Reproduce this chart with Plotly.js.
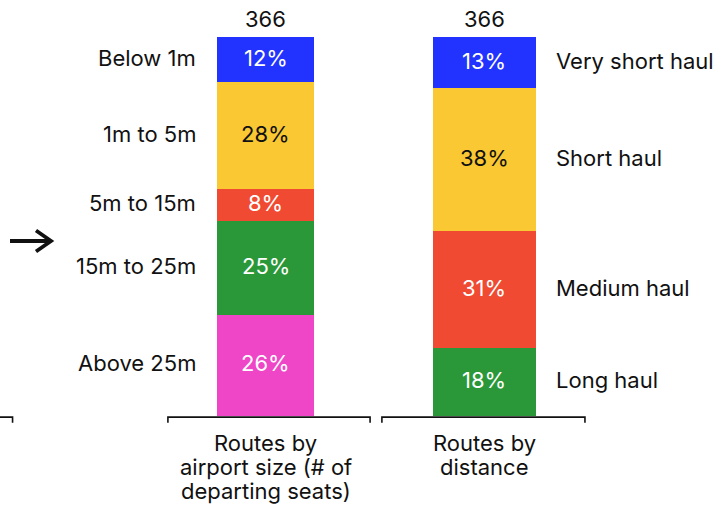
<!DOCTYPE html>
<html>
<head>
<meta charset="utf-8">
<script src="https://cdn.plot.ly/plotly-3.0.1.min.js"></script>
<style>html,body{margin:0;padding:0;background:#fff;}#chart{width:724px;height:509px;}</style>
</head>
<body>
<div id="chart"></div>
<script>
// ---- data ----
const groups = [["Routes by", "airport size (# of", "departing seats)"], ["Routes by", "distance"]];
const totals = [366, 366];

const sizeCats   = ["Below 1m", "1m to 5m", "5m to 15m", "15m to 25m", "Above 25m"];
const sizeShares = [11.9, 28.2, 8.4, 24.8, 26.7];
const sizeLabels = ["12%", "28%", "8%", "25%", "26%"];

const distCats   = ["Very short haul", "Short haul", "Medium haul", "Long haul"];
const distShares = [13.5, 37.7, 30.9, 17.9];
const distLabels = ["13%", "38%", "31%", "18%"];

// ---- styles ----
const sizeColors = ["#2233FF", "#F9C832", "#F04A33", "#2A9838", "#EE46C6"];
const sizeText   = ["#ffffff", "#111111", "#ffffff", "#ffffff", "#ffffff"];
const distColors = ["#2233FF", "#F9C832", "#F04A33", "#2A9838"];
const distText   = ["#ffffff", "#111111", "#ffffff", "#ffffff"];
const barWidths  = [0.444, 0.471];
const FONT = "Inter, Roboto, 'Liberation Sans', sans-serif";
const FS = 22;
const W = 724, H = 509;

const traces = [];
const annotations = [];

function addStack(xi, cats, shares, labels, colors, tcolors, side) {
  let cum = 0;
  cats.forEach((c, i) => {
    traces.push({
      type: "bar", x: [xi], y: [shares[i]], width: [barWidths[xi]],
      marker: {color: colors[i], line: {width: 0}},
      hoverinfo: "skip", showlegend: false
    });
    const mid = cum + shares[i] / 2;
    cum += shares[i];
    // value label inside the segment
    annotations.push({
      x: xi, y: mid, xref: "x", yref: "y", showarrow: false,
      xanchor: "center", yanchor: "middle", yshift: 2,
      text: labels[i], font: {family: FONT, size: FS, color: tcolors[i]}
    });
    // category label beside the bar
    annotations.push({
      x: side < 0 ? xi - barWidths[xi] / 2 : xi + barWidths[xi] / 2,
      y: mid, xref: "x", yref: "y", showarrow: false,
      xanchor: side < 0 ? "right" : "left", yanchor: "middle",
      xshift: side < 0 ? -19 : 18, yshift: 2,
      text: c, font: {family: FONT, size: FS, color: "#111"}
    });
  });
}
addStack(0, sizeCats, sizeShares, sizeLabels, sizeColors, sizeText, -1);
addStack(1, distCats, distShares, distLabels, distColors, distText, 1);

totals.forEach((t, i) => {
  annotations.push({x: i, y: 0, xref: "x", yref: "y", showarrow: false,
    yanchor: "bottom", yshift: 3, text: String(t),
    font: {family: FONT, size: FS, color: "#111"}});
});
groups.forEach((lines, i) => {
  lines.forEach((ln, k) => {
    annotations.push({x: i, y: 100, xref: "x", yref: "y", showarrow: false,
      yanchor: "middle", yshift: -27 - 24 * k, text: ln, align: "center",
      font: {family: FONT, size: FS, color: "#111"}});
  });
});

// bracket-style category axis
const brackets = [[-1.35, -1.156], [-0.446, 0.478], [0.532, 1.46]];
const shapes = brackets.map(b => ({
  type: "path", xref: "x", yref: "y",
  path: `M${b[0]},101.8 L${b[0]},100.3 L${b[1]},100.3 L${b[1]},101.8`,
  line: {color: "#111", width: 1.6}
}));
// arrow marker on the left (pixel positions converted to paper fractions)
const px = v => v / W, py = v => 1 - v / H;
shapes.push({type: "path", xref: "paper", yref: "paper",
  path: `M${px(10)},${py(241)} L${px(51)},${py(241)}`,
  line: {color: "#111", width: 3.8}});
shapes.push({type: "path", xref: "paper", yref: "paper",
  path: `M${px(36)},${py(230.5)} L${px(51)},${py(241)} L${px(36)},${py(251.5)}`,
  line: {color: "#111", width: 3.8}});

const layout = {
  width: W, height: H,
  margin: {l: 0, r: 0, t: 0, b: 0, pad: 0},
  paper_bgcolor: "#fff", plot_bgcolor: "#fff",
  barmode: "stack", bargap: 0,
  xaxis: {range: [-1.2134, 2.0955], visible: false, fixedrange: true},
  yaxis: {range: [124.54, -9.76], visible: false, fixedrange: true},
  annotations: annotations, shapes: shapes,
  font: {family: FONT, size: FS, color: "#111"}
};

Plotly.newPlot("chart", traces, layout, {displayModeBar: false, staticPlot: true});
</script>
</body>
</html>
